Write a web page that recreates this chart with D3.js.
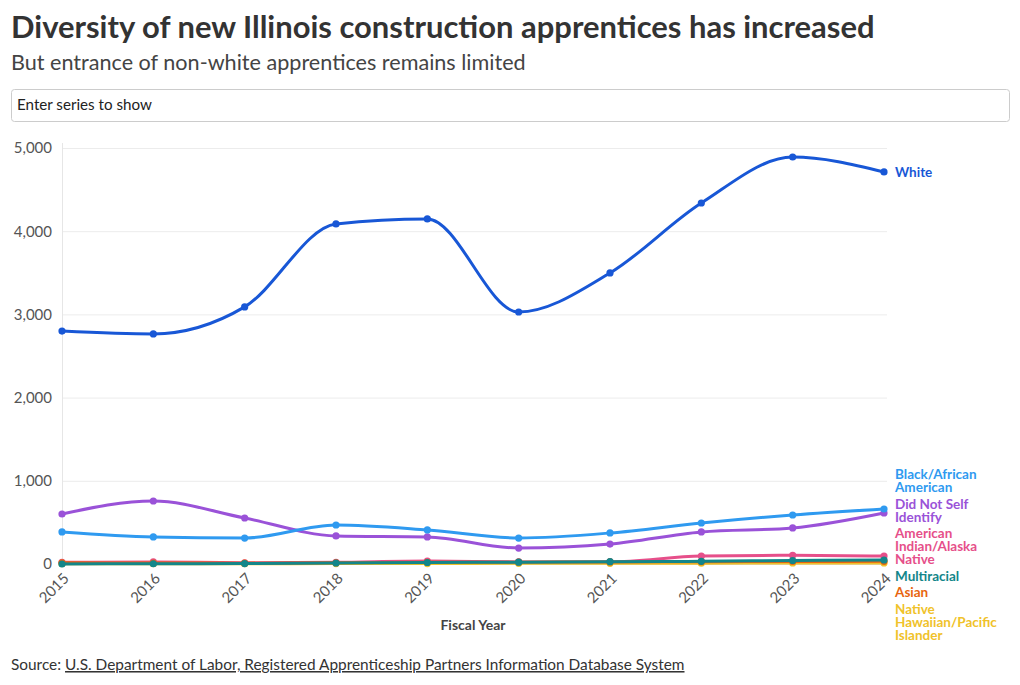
<!DOCTYPE html>
<html>
<head>
<meta charset="utf-8">
<script src="https://cdn.jsdelivr.net/npm/d3@7"></script>
<style>
  body { margin: 0; background: #fff; font-family: Lato, "Noto Sans", sans-serif; }
  #chart text { font-family: Lato, "Noto Sans", sans-serif; }
</style>
</head>
<body>
<div id="chart"></div>
<script>
// Fiscal years and series values (new apprentices)
const years = [2015, 2016, 2017, 2018, 2019, 2020, 2021, 2022, 2023, 2024];
const white = [2800, 2765, 3090, 4087, 4147, 3029, 3498, 4339, 4892, 4712];
const black = [385, 325, 312, 469, 409, 312, 373, 493, 589, 661];
const notIdentified = [601, 757, 553, 337, 325, 192, 240, 385, 433, 613];
const amIndian = [20, 25, 15, 20, 35, 25, 25, 95, 105, 95];
const multiracial = [0, 3, 5, 12, 18, 22, 28, 32, 42, 48];
const asian = [15, 12, 10, 15, 20, 22, 25, 28, 30, 32];
const hawaiian = [3, 3, 3, 5, 5, 8, 8, 10, 12, 12];
const yTicks = [0, 1000, 2000, 3000, 4000, 5000];

const series = [
  { name: 'American Indian/Alaska Native', lines: ['American', 'Indian/Alaska', 'Native'], values: amIndian, color: '#e64f8a' },
  { name: 'Native Hawaiian/Pacific Islander', lines: ['Native', 'Hawaiian/Pacific', 'Islander'], values: hawaiian, color: '#f0c22a' },
  { name: 'Asian', lines: ['Asian'], values: asian, color: '#e8650f' },
  { name: 'Multiracial', lines: ['Multiracial'], values: multiracial, color: '#13868a' },
  { name: 'Did Not Self Identify', lines: ['Did Not Self', 'Identify'], values: notIdentified, color: '#9a52d8' },
  { name: 'Black/African American', lines: ['Black/African', 'American'], values: black, color: '#2f9af0' },
  { name: 'White', lines: ['White'], values: white, color: '#1857d6' }
];

const width = 1020, height = 685;
const margin = { left: 62, right: 884, top: 148, bottom: 564 };

const svg = d3.select('#chart').append('svg')
  .attr('width', width)
  .attr('height', height);

// fit a text element to a given width
function fitWidth(sel, w) {
  const size = parseFloat(sel.attr('font-size'));
  const len = sel.node().getComputedTextLength();
  sel.attr('font-size', size * w / len);
}

// Header
const title = svg.append('text')
  .attr('x', 11).attr('y', 38)
  .attr('font-size', 30).attr('font-weight', 700)
  .attr('fill', '#333')
  .text('Diversity of new Illinois construction apprentices has increased');
fitWidth(title, 864);

const subtitle = svg.append('text')
  .attr('x', 11).attr('y', 70)
  .attr('font-size', 20)
  .attr('fill', '#444')
  .text('But entrance of non-white apprentices remains limited');
fitWidth(subtitle, 515);

// Search box
svg.append('rect')
  .attr('x', 11.5).attr('y', 89.5)
  .attr('width', 998).attr('height', 32)
  .attr('rx', 3)
  .attr('fill', '#fff')
  .attr('stroke', '#ccc');

const placeholder = svg.append('text')
  .attr('x', 17).attr('y', 110)
  .attr('font-size', 14)
  .attr('fill', '#222')
  .text('Enter series to show');
fitWidth(placeholder, 135);

// Scales
const x = d3.scaleLinear().domain([2015, 2024]).range([margin.left, margin.right]);
const y = d3.scaleLinear().domain([0, 5000]).range([margin.bottom, margin.top]);

// Gridlines
svg.append('g')
  .selectAll('line')
  .data(yTicks)
  .join('line')
  .attr('x1', margin.left).attr('x2', margin.right + 3)
  .attr('y1', d => y(d) + 0.5).attr('y2', d => y(d) + 0.5)
  .attr('stroke', d => d === 0 ? '#d8d8d8' : '#ececec');

svg.append('line')
  .attr('x1', margin.left + 0.5).attr('x2', margin.left + 0.5)
  .attr('y1', margin.top - 5).attr('y2', margin.bottom)
  .attr('stroke', '#e6e6e6');

// Y axis labels
const yAxis = svg.append('g')
  .attr('transform', `translate(${margin.left - 10},0)`)
  .call(d3.axisLeft(y).tickValues(yTicks).tickFormat(d3.format(',')).tickSize(0).tickPadding(0));
yAxis.select('.domain').remove();
yAxis.selectAll('text')
  .attr('font-size', 15)
  .attr('fill', '#555')
  .style('font-family', 'Lato, sans-serif');

// X axis labels (rotated)
const xAxis = svg.append('g')
  .attr('transform', `translate(0,${margin.bottom + 8})`)
  .call(d3.axisBottom(x).tickValues(years).tickFormat(d3.format('d')).tickSize(0).tickPadding(0));
xAxis.select('.domain').remove();
xAxis.selectAll('text')
  .attr('font-size', 15)
  .attr('fill', '#555')
  .style('font-family', 'Lato, sans-serif')
  .attr('text-anchor', 'end')
  .attr('dy', '0.7em')
  .attr('transform', 'rotate(-45)');

svg.append('text')
  .attr('x', (margin.left + margin.right) / 2)
  .attr('y', 630)
  .attr('text-anchor', 'middle')
  .attr('font-size', 14)
  .attr('font-weight', 700)
  .attr('fill', '#444')
  .text('Fiscal Year');

// Lines
const line = d3.line()
  .x((d, i) => x(years[i]))
  .y(d => y(d))
  .curve(d3.curveMonotoneX);

series.forEach(s => {
  const g = svg.append('g');
  g.append('path')
    .attr('d', line(s.values))
    .attr('fill', 'none')
    .attr('stroke', s.color)
    .attr('stroke-width', 3)
    .attr('stroke-linejoin', 'round');
  g.selectAll('circle')
    .data(s.values)
    .join('circle')
    .attr('cx', (d, i) => x(years[i]))
    .attr('cy', d => y(d))
    .attr('r', 3.6)
    .attr('fill', s.color);
});

// Direct labels with simple collision avoidance
const lineH = 13, gap = 3.5, labelLimit = margin.bottom + 77;
const labels = series.map(s => ({
  s,
  target: y(s.values[s.values.length - 1]),
  h: s.lines.length * lineH
})).sort((a, b) => a.target - b.target);

let prevBottom = -Infinity;
labels.forEach(l => {
  l.top = Math.max(l.target - l.h / 2, prevBottom + gap);
  prevBottom = l.top + l.h;
});
let nextTop = labelLimit + gap;
for (let i = labels.length - 1; i >= 0; i--) {
  const l = labels[i];
  const bottom = Math.min(l.top + l.h, nextTop - gap);
  l.top = bottom - l.h;
  nextTop = l.top;
}

labels.forEach(l => {
  const t = svg.append('text')
    .attr('x', margin.right + 11)
    .attr('font-size', 13.5)
    .attr('font-weight', 700)
    .attr('fill', l.s.color);
  l.s.lines.forEach((txt, k) => {
    t.append('tspan')
      .attr('x', margin.right + 11)
      .attr('y', l.top + lineH / 2 + k * lineH)
      .attr('dominant-baseline', 'central')
      .text(txt);
  });
});

// Source
const source = svg.append('text')
  .attr('x', 11).attr('y', 670)
  .attr('font-size', 14)
  .attr('fill', '#333');
source.append('tspan').text('Source: ');
source.append('tspan')
  .attr('text-decoration', 'underline')
  .text('U.S. Department of Labor, Registered Apprenticeship Partners Information Database System');
fitWidth(source, 674);
</script>
</body>
</html>
